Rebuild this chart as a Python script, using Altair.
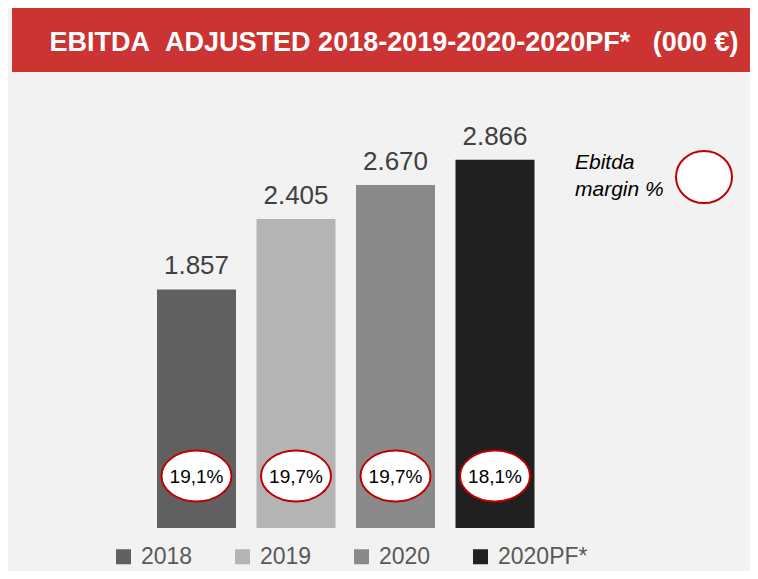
import altair as alt
import pandas as pd

categories = ["2018", "2019", "2020", "2020PF*"]
ebitda = [1857, 2405, 2670, 2866]
ebitda_labels = ["1.857", "2.405", "2.670", "2.866"]
margins = ["19,1%", "19,7%", "19,7%", "18,1%"]
bar_colors = ["#606060", "#b4b4b4", "#8a8a8a", "#202020"]
title_text = "EBITDA\u00a0\u00a0ADJUSTED 2018-2019-2020-2020PF*\u00a0\u00a0\u00a0(000\u00a0€)"
note_text = "Ebitda\nmargin %"

df = pd.DataFrame({"year": categories, "ebitda": ebitda,
                   "label": ebitda_labels, "margin": margins})

W, H = 742, 563
FONT = "Liberation Sans, Arial, sans-serif"
RED = "#c00000"
ELLIPSE = "M -1 0 A 1 0.73 0 1 0 1 0 A 1 0.73 0 1 0 -1 0 Z"
ROUND = "M -1 0 A 1 0.93 0 1 0 1 0 A 1 0.93 0 1 0 -1 0 Z"

x = alt.X("year:N", sort=categories,
          scale=alt.Scale(domain=categories, range=[138.75, 536.75],
                          paddingInner=0.206, paddingOuter=0.103),
          axis=None)
y = alt.Y("ebitda:Q", scale=alt.Scale(domain=[0, 4047], range=[520, 0], nice=False),
          axis=None)
color = alt.Color("year:N",
                  scale=alt.Scale(domain=categories, range=bar_colors),
                  legend=alt.Legend(title=None, orient="none", direction="horizontal",
                                    legendX=104, legendY=537, symbolType="square",
                                    symbolSize=225, symbolStrokeWidth=0,
                                    labelFont=FONT, labelFontSize=23,
                                    labelColor="#595959", labelOffset=6,
                                    columnPadding=38, padding=0))

base = alt.Chart(df)
bars = base.mark_bar().encode(x=x, y=y, color=color)
vals = base.mark_text(font=FONT, fontSize=26, color="#404040", dy=-15,
                      baseline="alphabetic").encode(x=x, y=y, text="label:N")
ell = base.mark_point(shape=ELLIPSE, size=4900, filled=True, fill="white",
                      stroke=RED, strokeWidth=2, opacity=1).encode(x=x, y=alt.value(468))
pct = base.mark_text(font=FONT, fontSize=19, color="black", baseline="middle",
                     dy=1).encode(x=x, y=alt.value(468), text="margin:N")

tdf = pd.DataFrame({"t": [title_text]})
banner = alt.Chart(tdf).mark_rect(color="#cc3333").encode(
    x=alt.value(4), x2=alt.value(W), y=alt.value(0), y2=alt.value(64))
title = alt.Chart(tdf).mark_text(font=FONT, fontWeight="bold", fontSize=27,
                                 color="white", align="center",
                                 baseline="alphabetic").encode(
    x=alt.value(386), y=alt.value(43), text="t:N")

ndf = pd.DataFrame({"t": [note_text]})
note = alt.Chart(ndf).mark_text(font=FONT, fontStyle="italic", fontSize=21,
                                color="black", align="left", baseline="alphabetic",
                                lineBreak="\n", lineHeight=27).encode(
    x=alt.value(567), y=alt.value(161), text="t:N")
note_ell = alt.Chart(ndf).mark_point(shape=ROUND, size=3136, filled=True, fill="white",
                                     stroke=RED, strokeWidth=2, opacity=1).encode(
    x=alt.value(696), y=alt.value(169))

chart = alt.layer(banner, title, bars, vals, ell, pct, note, note_ell).properties(
    width=W, height=H, background="#f2f2f2", padding=0,
    autosize=alt.AutoSizeParams(type="none")
).configure_view(strokeWidth=0)

chart.save("out.html", embed_options={"renderer": "svg", "actions": False})
